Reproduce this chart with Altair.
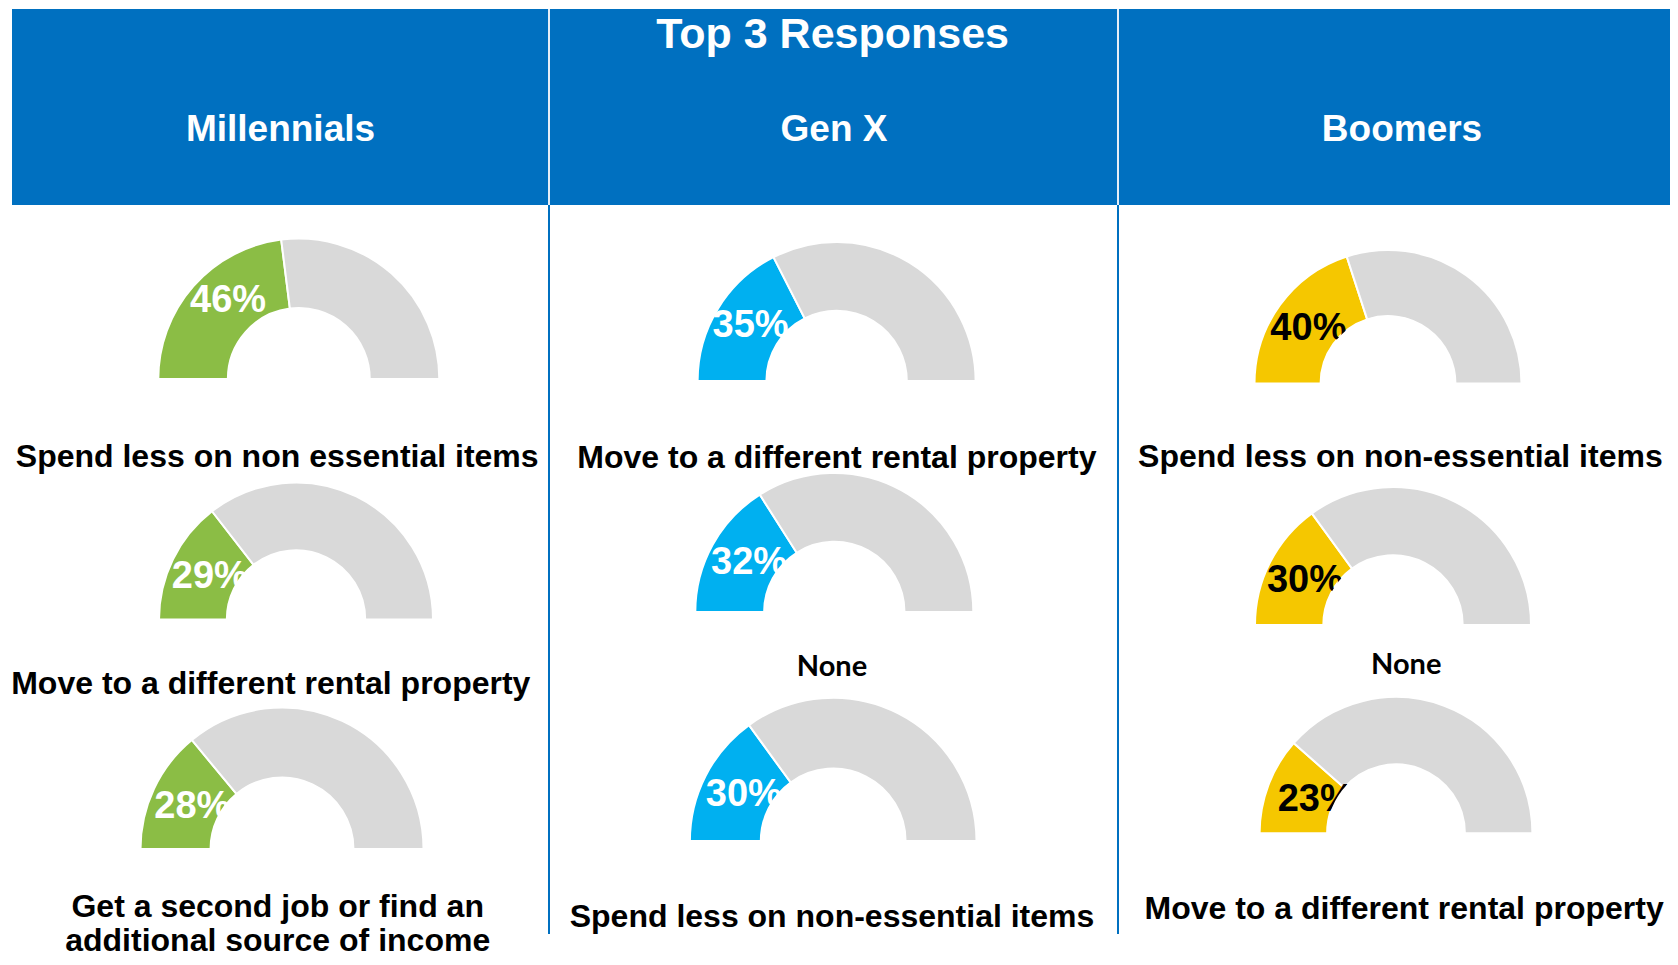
import math
import altair as alt
import pandas as pd

# ---------------- data ----------------
generations = ["Millennials", "Gen X", "Boomers"]
pct_millennials = [46, 29, 28]
pct_genx = [35, 32, 30]
pct_boomers = [40, 30, 23]
resp_millennials = [
    "Spend less on non essential items",
    "Move to a different rental property",
    "Get a second job or find an\nadditional source of income",
]
resp_genx = [
    "Move to a different rental property",
    "None",
    "Spend less on non-essential items",
]
resp_boomers = [
    "Spend less on non-essential items",
    "None",
    "Move to a different rental property",
]
title_text = "Top 3 Responses"
gauge_total = 100

# ---------------- styles ----------------
HEADER_BLUE = "#0070C0"
GREY = "#D9D9D9"
fill_colors = {"Millennials": "#8BBD45", "Gen X": "#00B0F0", "Boomers": "#F5C700"}
pct_text_colors = {"Millennials": "#FFFFFF", "Gen X": "#FFFFFF", "Boomers": "#000000"}
FONT = "Liberation Sans"

# ---------------- layout (page pixels) ----------------
OX, OY = 8, 8
W, H = 1662, 949
INNER = 0.505
gauge_layout = {
    "Millennials": [(298.8, 378.0, 140.5), (296.0, 618.5, 137.0), (282.0, 848.0, 141.5)],
    "Gen X": [(836.6, 380.0, 139.0), (834.3, 611.0, 139.0), (833.2, 840.0, 143.3)],
    "Boomers": [(1388.0, 382.5, 133.5), (1393.0, 624.0, 138.0), (1396.0, 832.3, 136.4)],
}
# small nudges of the percentage labels from their polar position
pct_nudge = {
    "Millennials": [(3, -13), (0, 0), (0, 0)],
    "Gen X": [(-3, -4), (0, -2), (0, 0)],
    "Boomers": [(-4, 0), (-2, 0), (9, 0)],
}
label_layout = {
    "Millennials": [(277.2, 466.0), (270.8, 693.0), (277.7, 916.0)],
    "Gen X": [(836.9, 467.0), (832.0, 675.0), (832.0, 926.0)],
    "Boomers": [(1400.4, 466.0), (1406.2, 673.0), (1404.1, 918.0)],
}
header_name_x = {"Millennials": 280.5, "Gen X": 834.0, "Boomers": 1402.0}
header_name_y = 140.0
title_pos = (832.6, 46.5)
divider_x = [549.0, 1118.0]
band = dict(x=12.0, x2=1678.0, y=8.0, y2=204.0)
divider_bottom = 933.0

# ---------------- tables ----------------
series = {"Millennials": (pct_millennials, resp_millennials),
          "Gen X": (pct_genx, resp_genx),
          "Boomers": (pct_boomers, resp_boomers)}

arc_rows, pct_rows, cover_rows, resp_rows = [], [], [], []
for g in generations:
    vals, resps = series[g]
    for i, (v, t) in enumerate(zip(vals, resps)):
        cx, cy, R = gauge_layout[g][i]
        cx, cy = cx - OX, cy - OY
        r = R * INNER
        dx, dy = pct_nudge[g][i]
        arc_rows.append(dict(cx=cx, cy=cy, R=R, r=r, start=0, end=v, fill=fill_colors[g]))
        arc_rows.append(dict(cx=cx, cy=cy, R=R, r=r, start=v, end=gauge_total, fill=GREY))
        pct_rows.append(dict(cx=cx + dx, cy=cy + dy, rho=R * 0.70, mid=v / 2, label=f"{v}%",
                             tcolor=pct_text_colors[g]))
        cover_rows.append(dict(cx=cx, cy=cy, r=r, start=0, end=gauge_total, zero=0))
        lx, ly = label_layout[g][i]
        resp_rows.append(dict(x=lx - OX, y=ly - OY, text=t, is_none=(t == "None")))

arcs_df = pd.DataFrame(arc_rows)
pct_df = pd.DataFrame(pct_rows)
cover_df = pd.DataFrame(cover_rows)
resp_df = pd.DataFrame(resp_rows)

header_df = pd.DataFrame({
    "text": generations,
    "x": [header_name_x[g] - OX for g in generations],
    "y": [header_name_y - OY] * 3,
})
title_df = pd.DataFrame({"text": [title_text], "x": [title_pos[0] - OX], "y": [title_pos[1] - OY]})
div_df = pd.DataFrame({"x": [d - OX for d in divider_x]})
one = pd.DataFrame({"k": [0]})

theta_scale = alt.Scale(domain=[0, gauge_total], range=[-math.pi / 2, math.pi / 2])
X = lambda f: alt.X(f, scale=None, axis=None)
Y = lambda f: alt.Y(f, scale=None, axis=None)

# header band
band_layer = alt.Chart(one).mark_rect(color=HEADER_BLUE).encode(
    x=alt.value(band["x"] - OX), x2=alt.value(min(band["x2"] - OX, W)),
    y=alt.value(max(band["y"] - OY, 0)), y2=alt.value(band["y2"] - OY),
)
div_white = alt.Chart(div_df).mark_rule(color="#E6EEF7", strokeWidth=2).encode(
    x=X("x:Q"), y=alt.value(0), y2=alt.value(band["y2"] - OY)
)
div_blue = alt.Chart(div_df).mark_rule(color=HEADER_BLUE, strokeWidth=2).encode(
    x=X("x:Q"), y=alt.value(band["y2"] - OY), y2=alt.value(divider_bottom - OY)
)
title_layer = alt.Chart(title_df).mark_text(
    font=FONT, fontWeight="bold", fontSize=43, color="white", align="center", baseline="alphabetic"
).encode(x=X("x:Q"), y=Y("y:Q"), text="text:N")
header_layer = alt.Chart(header_df).mark_text(
    font=FONT, fontWeight="bold", fontSize=37, color="white", align="center", baseline="alphabetic"
).encode(x=X("x:Q"), y=Y("y:Q"), text="text:N")

# gauges
arc_layer = alt.Chart(arcs_df).mark_arc(stroke="white", strokeWidth=2).encode(
    x=X("cx:Q"), y=Y("cy:Q"),
    theta=alt.Theta("start:Q", scale=theta_scale, stack=None),
    theta2="end:Q",
    radius=alt.Radius("R:Q", scale=None),
    radius2="r:Q",
    color=alt.Color("fill:N", scale=None),
)
pct_layer = alt.Chart(pct_df).mark_text(
    font=FONT, fontWeight="bold", fontSize=38, align="center", baseline="middle"
).encode(
    x=X("cx:Q"), y=Y("cy:Q"),
    theta=alt.Theta("mid:Q", scale=theta_scale, stack=None),
    radius=alt.Radius("rho:Q", scale=None),
    text="label:N",
    color=alt.Color("tcolor:N", scale=None),
)
cover_layer = alt.Chart(cover_df).mark_arc(color="white").encode(
    x=X("cx:Q"), y=Y("cy:Q"),
    theta=alt.Theta("start:Q", scale=theta_scale, stack=None),
    theta2="end:Q",
    radius=alt.Radius("r:Q", scale=None),
    radius2="zero:Q",
)

resp_layer = alt.Chart(resp_df).transform_filter("!datum.is_none").mark_text(
    font=FONT, fontWeight="bold", fontSize=32, color="black", align="center",
    baseline="alphabetic", lineBreak="\n", lineHeight=34
).encode(x=X("x:Q"), y=Y("y:Q"), text="text:N")
none_layer = alt.Chart(resp_df).transform_filter("datum.is_none").mark_text(
    font="Lato", fontWeight="bold", fontSize=29, color="black", align="center", baseline="alphabetic"
).encode(x=X("x:Q"), y=Y("y:Q"), text="text:N")

chart = alt.layer(
    band_layer, div_white, div_blue, title_layer, header_layer,
    arc_layer, pct_layer, cover_layer, resp_layer, none_layer,
).properties(
    width=W, height=H,
    autosize=alt.AutoSizeParams(type="fit", contains="padding"),
    padding=0,
).configure_view(stroke=None)

chart.save("out.html", embed_options={"renderer": "svg", "actions": False})
